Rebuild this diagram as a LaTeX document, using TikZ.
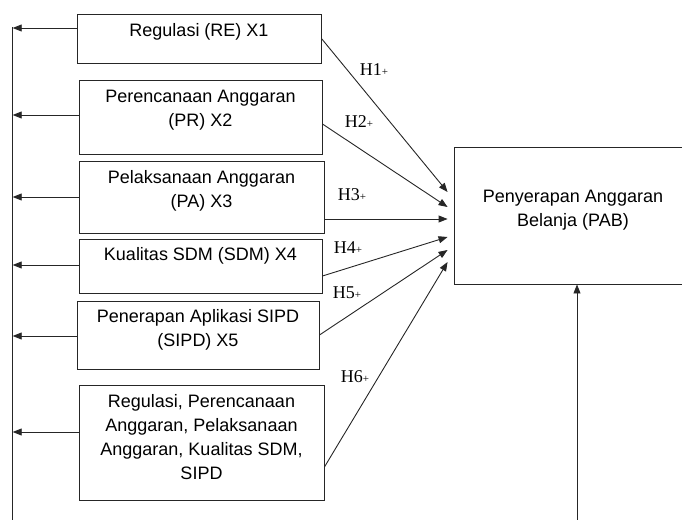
\documentclass[tikz,border=0pt]{standalone}
\usepackage{fontspec}
\setmainfont{Liberation Sans}
\newfontfamily\hypfont{Liberation Serif}
\usepackage{tikz}
\usetikzlibrary{arrows.meta,positioning}

\newcommand{\hplus}{{\fontsize{11}{11}\selectfont+}}

\begin{document}
\begin{tikzpicture}[x=1pt,y=-1pt]

\tikzset{
  varbox/.style={draw=black!85, line width=0.9pt, inner sep=0pt},
  boxtext/.style={font=\fontsize{18}{24}\selectfont, align=center, inner sep=0pt},
  hyp/.style={font=\hypfont\fontsize{18}{20}\selectfont, inner sep=1pt},
  link/.style={black!85, line width=0.9pt},
  arr/.style={black!85, line width=0.9pt,
              -{Triangle[length=9pt, width=7pt]}}
}

\useasboundingbox (0,0) rectangle (682,519);

% Independent variables
\node[varbox, minimum width=244pt, minimum height=49pt] (re) at (199,38.5) {};
\node[boxtext, below=10pt of re.north] (re-t) {Regulasi (RE) X1};

\node[varbox, minimum width=243pt, minimum height=74pt] (pr) at (200.5,117) {};
\node[boxtext, below=10pt of pr.north] (pr-t) {Perencanaan Anggaran\\(PR) X2};

\node[varbox, minimum width=245pt, minimum height=72pt] (pa) at (201.5,197) {};
\node[boxtext, below=10pt of pa.north] (pa-t) {Pelaksanaan Anggaran\\(PA) X3};

\node[varbox, minimum width=243pt, minimum height=54pt] (sdm) at (200.5,266) {};
\node[boxtext, below=9pt of sdm.north] (sdm-t) {Kualitas SDM (SDM) X4};

\node[varbox, minimum width=242pt, minimum height=68pt] (sipd) at (198,335) {};
\node[boxtext, below=9pt of sipd.north] (sipd-t) {Penerapan Aplikasi SIPD\\(SIPD) X5};

\node[varbox, minimum width=245pt, minimum height=115pt] (all) at (201.5,442.5) {};
\node[boxtext, below=10pt of all.north] (all-t) {Regulasi, Perencanaan\\Anggaran, Pelaksanaan\\Anggaran, Kualitas SDM,\\SIPD};

% Dependent variable
\node[varbox, minimum width=238pt, minimum height=137pt] (pab) at (573,215.5) {};
\node[boxtext, below=43pt of pab.north] (pab-t) {Penyerapan Anggaran\\Belanja (PAB)};

% Left line
\coordinate (bustop) at (12.7,27);
\coordinate (busbot) at (12.7,530);
\draw[link] (bustop) -- (busbot);
\foreach \b/\s in {re/10.5, pr/2, pa/0, sdm/1, sipd/-1, all/10.5}{
  \path ([yshift=\s pt]\b.west) coordinate (w\b);
  \draw[arr] (w\b) -- (w\b -| bustop);
}

% Hypotheses
\foreach \b/\s/\e in {re/0/23.5, pr/-7/8.5, pa/-22/-3.5, sdm/-10/-21.5, sipd/0/-34.5, all/-24.5/-46.5}
  \draw[arr] ([yshift=\s pt]\b.east) -- ([xshift=-6pt, yshift=\e pt]pab.west);

\node[hyp] (h1) at (374,70) {H1\hplus};
\node[hyp] (h2) at (359,122) {H2\hplus};
\node[hyp] (h3) at (352,195) {H3\hplus};
\node[hyp] (h4) at (348,248) {H4\hplus};
\node[hyp] (h5) at (347,293) {H5\hplus};
\node[hyp] (h6) at (355,377) {H6\hplus};

% Bottom line
\coordinate (botin) at (577,530);
\draw[arr] (botin) -- (botin |- pab.south);

\end{tikzpicture}
\end{document}
